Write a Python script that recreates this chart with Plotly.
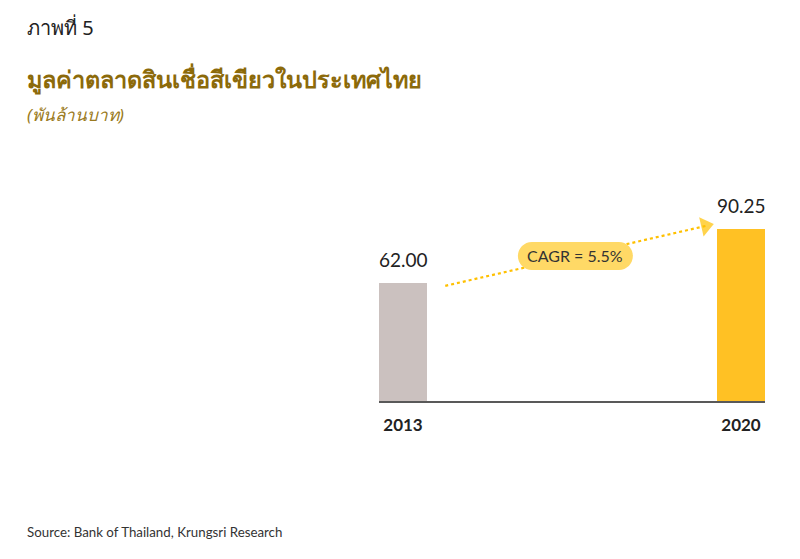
import plotly.graph_objects as go

categories = ["2013", "2020"]
values = [62.00, 90.25]
bar_colors = ["#CBC1BF", "#FFC124"]
value_labels = ["62.00", "90.25"]
cagr_label = "CAGR = 5.5%"

title_small = "ภาพที่ 5"
title_main = "มูลค่าตลาดสินเชื่อสีเขียวในประเทศไทย"
subtitle = "(พันล้านบาท)"
source = "Source: Bank of Thailand, Krungsri Research"

W, H = 800, 559
OFF = 8  # page body offset
L, R, T, B = 379 - OFF, 35 + OFF, 150 - OFF, 158 + OFF
pw, ph = W - L - R, H - T - B
ymax = ph / 1.905
bw = 48 / (pw - 48)
half = bw / 2

def px(xp):
    return (xp - OFF - L) / pw

def py(yp):
    return (H - B - (yp - OFF)) / ph

fig = go.Figure()
fig.add_trace(go.Bar(x=categories, y=values, marker=dict(color=bar_colors, line=dict(width=0)),
                     width=bw, hoverinfo="skip"))

# arrow from 2013 bar toward 2020 bar (derived from data)
x0, x1 = 0.125, 0.895
y0, y1 = values[0] * 0.975, values[1] * 1.018
fig.add_trace(go.Scatter(x=[x0, x1], y=[y0, y1], xaxis="x2", mode="lines",
                         line=dict(color="#FFC000", width=2.2, dash="dot"), hoverinfo="skip"))
fig.add_trace(go.Scatter(x=[x0, x1], y=[y0, y1], xaxis="x2", mode="markers",
                         marker=dict(symbol="triangle-up", size=[0, 17], color="#FFC000",
                                     angleref="previous", line=dict(width=0)), hoverinfo="skip"))

# pill
xm, ym = (x0 + x1) / 2, (y0 + y1) / 2
hw, hh = 57.5, 14
k = 0.5523
a = hw - hh
path = (f"M {-a},{-hh} L {a},{-hh} C {a + k*hh},{-hh} {hw},{-k*hh} {hw},0 "
        f"C {hw},{k*hh} {a + k*hh},{hh} {a},{hh} L {-a},{hh} "
        f"C {-a - k*hh},{hh} {-hw},{k*hh} {-hw},0 C {-hw},{-k*hh} {-a - k*hh},{-hh} {-a},{-hh} Z")
fig.add_shape(type="path", xref="x2", yref="y", xsizemode="pixel", ysizemode="pixel",
              xanchor=xm, yanchor=ym, path=path, fillcolor="#FFD966", line=dict(width=0), layer="above")
fig.add_annotation(x=xm, y=ym, xref="x2", yref="y", text=cagr_label, showarrow=False,
                   font=dict(family="Lato, Open Sans, sans-serif", size=16, color="#333333"))

for i, (v, t) in enumerate(zip(values, value_labels)):
    fig.add_annotation(x=i, y=v, xref="x2", yref="y", text=t, showarrow=False, yanchor="bottom",
                       yshift=10, font=dict(family="Lato, Open Sans, sans-serif", size=19, color="#222222"))

# titles
tf = "Noto Sans, DejaVu Sans, sans-serif"
fig.add_annotation(x=px(25), y=py(27), xref="paper", yref="paper", text=title_small, showarrow=False,
                   xanchor="left", yanchor="middle", font=dict(family=tf, size=20, color="#222222"))
fig.add_annotation(x=px(25), y=py(79), xref="paper", yref="paper", text="<b>" + title_main + "</b>", showarrow=False,
                   xanchor="left", yanchor="middle", font=dict(family=tf, size=23.5, color="#8C6A0A"))
fig.add_annotation(x=px(25), y=py(115), xref="paper", yref="paper", text="<i>" + subtitle + "</i>", showarrow=False,
                   xanchor="left", yanchor="middle", font=dict(family=tf, size=17, color="#9A7A20"))
fig.add_annotation(x=px(25), y=py(532), xref="paper", yref="paper", text=source, showarrow=False,
                   xanchor="left", yanchor="middle", font=dict(family="Lato, Open Sans, sans-serif", size=13.3, color="#333333"))

fig.update_layout(
    width=W, height=H, margin=dict(l=L, r=R, t=T, b=B),
    paper_bgcolor="white", plot_bgcolor="white", showlegend=False,
    xaxis=dict(type="category", range=[-half, 1 + half], showgrid=False, zeroline=False,
               showline=True, linecolor="#595959", linewidth=2,
               ticks="outside", ticklen=8, tickcolor="rgba(0,0,0,0)",
               tickfont=dict(family="Lato, Open Sans, sans-serif", size=17, color="#222222", weight="bold")),
    xaxis2=dict(overlaying="x", range=[-half, 1 + half], visible=False),
    yaxis=dict(range=[0, ymax], visible=False, showgrid=False, zeroline=False),
)

fig.write_html("out.html")
